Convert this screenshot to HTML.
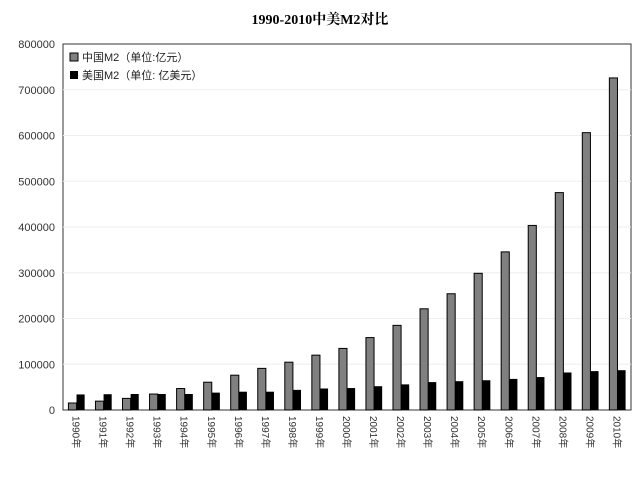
<!DOCTYPE html>
<html><head><meta charset="utf-8"><style>
body{margin:0;background:#fff;}
svg{display:block;font-family:"Liberation Sans","Noto Sans CJK SC",sans-serif;}
</style></head><body>
<svg id="chart" width="640" height="493" viewBox="0 0 640 493">
<text x="320" y="24" text-anchor="middle" font-size="14" font-weight="bold" font-family="'Liberation Serif','Noto Serif CJK SC',serif">1990-2010中美M2对比</text>
<rect x="63" y="44" width="568" height="366" fill="none" stroke="#333" stroke-width="1"/>
<g id="grid"></g><g id="yaxis"></g><g id="bars"></g><g id="xaxis"></g>
<g>
<rect x="70" y="53" width="8" height="8" fill="#808080" stroke="#000"/>
<text x="82" y="61" font-size="11" fill="#222">中国M2（单位:亿元）</text>
<rect x="70" y="71" width="8" height="8" fill="#000"/>
<text x="82" y="79" font-size="11" fill="#222">美国M2（单位: 亿美元）</text>
</g>
</svg>
<script>
const years=["1990年","1991年","1992年","1993年","1994年","1995年","1996年","1997年","1998年","1999年","2000年","2001年","2002年","2003年","2004年","2005年","2006年","2007年","2008年","2009年","2010年"];
const chinaM2=[15293,19350,25402,34880,46924,60751,76095,90995,104499,119898,134610,158302,185007,221223,254107,298756,345604,403442,475167,606225,725852];
const usM2=[34000,34500,35000,35000,35000,38000,40000,40000,44000,47000,48000,52000,56000,61000,63000,65000,68000,72000,82000,85000,87000];
const yTicks=[0,100000,200000,300000,400000,500000,600000,700000,800000];
const NS="http://www.w3.org/2000/svg";
const X0=63,X1=631,Y0=410,Y1=44,YMAX=800000;
function y(v){return Y0-(v/YMAX)*(Y0-Y1);}
function xBand(i){return X0+i*(X1-X0)/years.length;}
const bw=(X1-X0)/years.length;
function mk(tag,attrs,parent){const e=document.createElementNS(NS,tag);for(const k in attrs)e.setAttribute(k,attrs[k]);document.getElementById(parent).appendChild(e);return e;}
yTicks.forEach(t=>{
  if(t>0&&t<YMAX){const g=mk('line',{x1:X0,x2:X1,y1:y(t),y2:y(t),stroke:'#eee'},'grid');
  
  }
  const l=mk('text',{x:55,y:y(t)+4,'text-anchor':'end','font-size':11,fill:'#333'},'yaxis');
  
  
  l.textContent=t;
});
years.forEach((yr,i)=>{
  const bx=xBand(i)+bw*0.2;
  const w=bw*0.3;
  const a=mk('rect',{x:bx,y:y(chinaM2[i]),width:w,height:Y0-y(chinaM2[i]),fill:'#808080',stroke:'#000','stroke-width':1},'bars');
  
  
  const b=mk('rect',{x:bx+w,y:y(usM2[i]),width:w,height:Y0-y(usM2[i]),fill:'#000'},'bars');
  
  
  const cx=xBand(i)+bw/2;
  const t=mk('text',{x:cx-4,y:Y0+6,'font-size':10,fill:'#333',transform:`rotate(90 ${cx-4} ${Y0+6})`},'xaxis');
  
  
  t.textContent=yr;
});
</script>
</body></html>
